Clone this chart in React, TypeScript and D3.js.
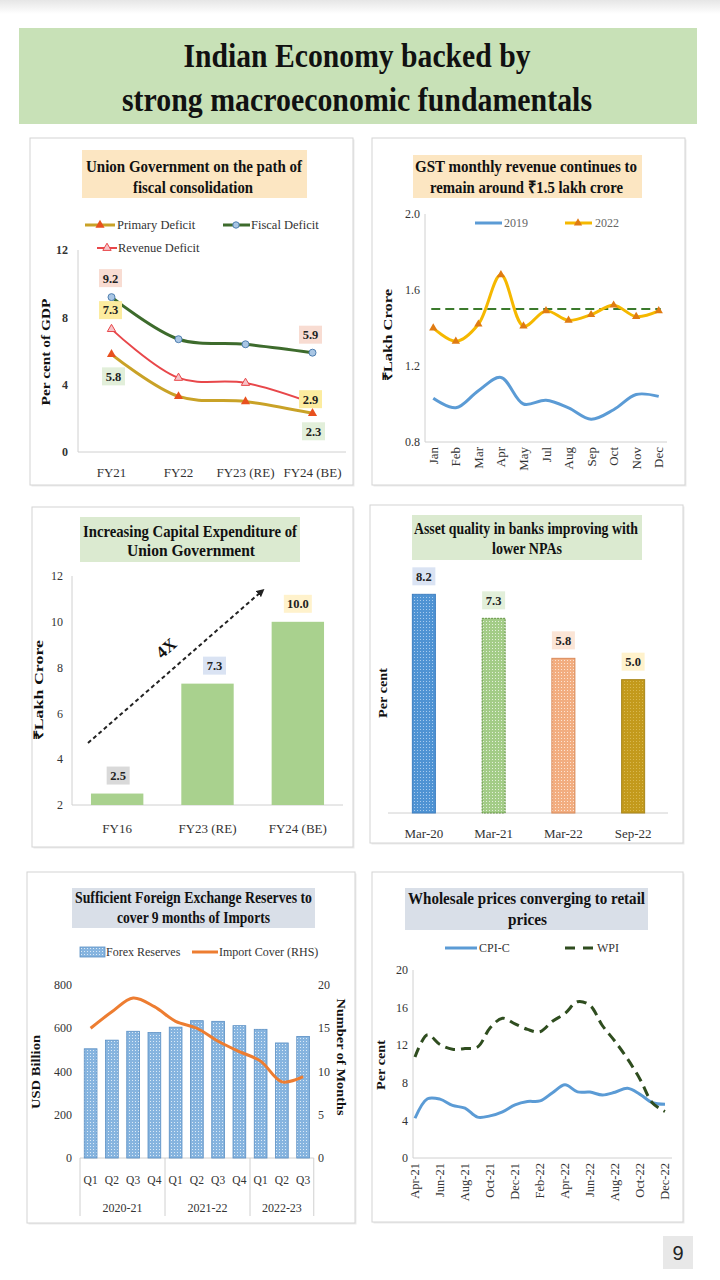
import React from 'react';
import * as d3 from 'd3';

const FONT = '"Liberation Serif", "Times New Roman", serif';

// ---------- Panel 1: fiscal consolidation ----------
const fiscalYears = ['FY21', 'FY22', 'FY23 (RE)', 'FY24 (BE)'];
const fiscalDeficit = [9.2, 6.7, 6.4, 5.9];
const revenueDeficit = [7.3, 4.4, 4.1, 2.9];
const primaryDeficit = [5.8, 3.3, 3.0, 2.3];
const deficitTicks = [0, 4, 8, 12];

// ---------- Panel 2: GST ----------
const gstMonths = ['Jan', 'Feb', 'Mar', 'Apr', 'May', 'Jul', 'Aug', 'Sep', 'Oct', 'Nov', 'Dec'];
const gst2019 = [1.03, 0.98, 1.07, 1.14, 1.0, 1.02, 0.98, 0.92, 0.97, 1.05, 1.04];
const gst2022 = [1.4, 1.33, 1.42, 1.68, 1.41, 1.49, 1.44, 1.47, 1.52, 1.46, 1.49];
const gstBenchmark = 1.5;
const gstTicks = [0.8, 1.2, 1.6, 2.0];

// ---------- Panel 3: Capex ----------
const capexYears = ['FY16', 'FY23 (RE)', 'FY24 (BE)'];
const capexValues = [2.5, 7.3, 10.0];
const capexTicks = [2, 4, 6, 8, 10, 12];

// ---------- Panel 4: NPAs ----------
const npaDates = ['Mar-20', 'Mar-21', 'Mar-22', 'Sep-22'];
const npaValues = [8.2, 7.3, 5.8, 5.0];

// ---------- Panel 5: Forex ----------
const forexQuarters = ['Q1', 'Q2', 'Q3', 'Q4', 'Q1', 'Q2', 'Q3', 'Q4', 'Q1', 'Q2', 'Q3'];
const forexYears = ['2020-21', '2021-22', '2022-23'];
const forexYearSpans = [4, 4, 3];
const forexReserves = [505, 545, 586, 580, 605, 635, 632, 612, 595, 532, 562];
const importCover = [15.0, 16.9, 18.5, 17.5, 15.8, 15.0, 13.5, 12.3, 11.2, 8.8, 9.4];
const forexTicks = [0, 200, 400, 600, 800];
const coverTicks = [0, 5, 10, 15, 20];

// ---------- Panel 6: Inflation ----------
const inflMonths = ['Apr-21', 'May-21', 'Jun-21', 'Jul-21', 'Aug-21', 'Sep-21', 'Oct-21', 'Nov-21', 'Dec-21', 'Jan-22', 'Feb-22', 'Mar-22', 'Apr-22', 'May-22', 'Jun-22', 'Jul-22', 'Aug-22', 'Sep-22', 'Oct-22', 'Nov-22', 'Dec-22'];
const inflLabels = ['Apr-21', 'Jun-21', 'Aug-21', 'Oct-21', 'Dec-21', 'Feb-22', 'Apr-22', 'Jun-22', 'Aug-22', 'Oct-22', 'Dec-22'];
const cpiC = [4.23, 6.3, 6.26, 5.59, 5.3, 4.35, 4.48, 4.91, 5.66, 6.01, 6.07, 6.95, 7.79, 7.04, 7.01, 6.71, 7.0, 7.41, 6.77, 5.88, 5.72];
const wpi = [10.74, 13.11, 12.07, 11.57, 11.64, 11.8, 13.83, 14.87, 14.27, 13.68, 13.43, 14.55, 15.38, 16.63, 16.23, 14.07, 12.41, 10.55, 8.39, 5.85, 4.95];
const inflTicks = [0, 4, 8, 12, 16, 20];

const AXIS = '#d0d0d0';
const TXT = '#333';

function Panel({ x, y, w, h }: { x: number; y: number; w: number; h: number }) {
  return (
    <g>
      <rect x={x + 1.5} y={y + 1.5} width={w} height={h} fill="#ececec" />
      <rect x={x} y={y} width={w} height={h} fill="#fff" stroke="#d4d4d4" strokeWidth={1} />
    </g>
  );
}

function TitleBox({ x, y, w, h, fill, lines, size = 17 }: any) {
  return (
    <g>
      <rect x={x} y={y} width={w} height={h} fill={fill} />
      {lines.map((l: any, i: number) => (
        <text key={i} x={l.x} y={l.y} fontSize={size} fontWeight="bold" fill="#111"
          textLength={l.len} lengthAdjust="spacingAndGlyphs">{l.t}</text>
      ))}
    </g>
  );
}

function LabelBox({ cx, cy, text, fill, w = 23 }: any) {
  return (
    <g>
      <rect x={cx - w / 2} y={cy - 9} width={w} height={18} fill={fill} />
      <text x={cx} y={cy} dy="0.35em" textAnchor="middle" fontSize={12.5} fontWeight="bold" fill="#222">{text}</text>
    </g>
  );
}

function YTitle({ x, y, text, rot = -90, len }: any) {
  return (
    <text transform={`translate(${x},${y}) rotate(${rot})`} textAnchor="middle" dy="0.35em"
      fontSize={13} fontWeight="bold" fill="#111" textLength={len} lengthAdjust="spacingAndGlyphs">{text}</text>
  );
}

const tri = d3.symbol().type(d3.symbolTriangle).size(36)() as string;
const triSmall = d3.symbol().type(d3.symbolTriangle).size(30)() as string;

function Panel1() {
  const x = d3.scalePoint<string>().domain(fiscalYears).range([78, 346]).padding(0.5);
  const y = d3.scaleLinear().domain([0, 12]).range([452, 250]);
  const ln = d3.line<number>().x((_, i) => x(fiscalYears[i])!).y(d => y(d)).curve(d3.curveCatmullRom);
  const px = (i: number) => x(fiscalYears[i])!;
  return (
    <g>
      <Panel x={30} y={138} w={323} h={347} />
      <TitleBox x={82} y={150} w={225} h={48} fill="#fce6c2"
        lines={[{ t: 'Union Government on the path of', x: 86, y: 172, len: 216 }, { t: 'fiscal consolidation', x: 133, y: 193, len: 120 }]} />
      {/* legend */}
      <line x1={85} x2={115} y1={225} y2={225} stroke="#c9a227" strokeWidth={3} />
      <path d={tri} transform="translate(100,225)" fill="#e8501e" />
      <text x={117} y={225} dy="0.35em" fontSize={12.5} fill={TXT}>Primary Deficit</text>
      <line x1={223} x2={250} y1={225} y2={225} stroke="#3d6b2c" strokeWidth={3} />
      <circle cx={236} cy={225} r={3.2} fill="#a9c6e4" stroke="#4f7fb0" strokeWidth={1} />
      <text x={251} y={225} dy="0.35em" fontSize={12.5} fill={TXT}>Fiscal Deficit</text>
      <line x1={97} x2={117} y1={248} y2={248} stroke="#e8474a" strokeWidth={2} />
      <path d={triSmall} transform="translate(107,248)" fill="#f6c3c8" stroke="#e8474a" strokeWidth={1} />
      <text x={118} y={248} dy="0.35em" fontSize={12.5} fill={TXT}>Revenue Deficit</text>
      {/* axes */}
      <line x1={78} x2={78} y1={250} y2={452} stroke={AXIS} />
      <line x1={78} x2={346} y1={452} y2={452} stroke={AXIS} />
      {deficitTicks.map(t => (
        <text key={t} x={68} y={y(t)} dy="0.35em" textAnchor="end" fontSize={12} fontWeight="bold" fill={TXT}>{t}</text>
      ))}
      {fiscalYears.map(c => (
        <text key={c} x={x(c)} y={472} dy="0.35em" textAnchor="middle" fontSize={13} fill={TXT}>{c}</text>
      ))}
      <YTitle x={45} y={352} text="Per cent of GDP" len={107} />
      {/* lines */}
      <path d={ln(primaryDeficit)!} fill="none" stroke="#c9a227" strokeWidth={3} />
      <path d={ln(revenueDeficit)!} fill="none" stroke="#e8474a" strokeWidth={2} />
      <path d={ln(fiscalDeficit)!} fill="none" stroke="#3d6b2c" strokeWidth={3} />
      {primaryDeficit.map((v, i) => <path key={'p' + i} d={tri} transform={`translate(${px(i)},${y(v)})`} fill="#e8501e" />)}
      {revenueDeficit.map((v, i) => <path key={'r' + i} d={triSmall} transform={`translate(${px(i)},${y(v)})`} fill="#f6c3c8" stroke="#e8474a" strokeWidth={1} />)}
      {fiscalDeficit.map((v, i) => <circle key={'f' + i} cx={px(i)} cy={y(v)} r={3.5} fill="#a9c6e4" stroke="#4f7fb0" strokeWidth={1} />)}
      {/* data labels */}
      <LabelBox cx={px(0) - 1} cy={y(fiscalDeficit[0]) - 19} text="9.2" fill="#f8dcd2" />
      <LabelBox cx={px(0) - 1} cy={y(revenueDeficit[0]) - 19} text="7.3" fill="#fcec9f" />
      <LabelBox cx={px(0) + 2} cy={y(primaryDeficit[0]) + 22} text="5.8" fill="#e2efda" />
      <LabelBox cx={px(3) - 2} cy={y(fiscalDeficit[3]) - 18} text="5.9" fill="#f8dcd2" />
      <LabelBox cx={px(3) - 2} cy={y(revenueDeficit[3]) - 4} text="2.9" fill="#fcec9f" />
      <LabelBox cx={px(3) + 1} cy={y(primaryDeficit[3]) + 18} text="2.3" fill="#e2efda" />
    </g>
  );
}

function Panel2() {
  const x = d3.scalePoint<string>().domain(gstMonths).range([422, 670]).padding(0.5);
  const y = d3.scaleLinear().domain([0.8, 2.0]).range([442, 214]);
  const ln = d3.line<number>().x((_, i) => x(gstMonths[i])!).y(d => y(d)).curve(d3.curveCatmullRom);
  return (
    <g>
      <Panel x={372} y={138} w={313} h={347} />
      <TitleBox x={413} y={155} w={229} h={43} fill="#fce6c2"
        lines={[{ t: 'GST monthly revenue continues to', x: 415, y: 172, len: 222 }, { t: 'remain around ₹1.5 lakh crore', x: 430, y: 193, len: 193 }]} />
      <line x1={425} x2={425} y1={214} y2={442} stroke={AXIS} />
      <line x1={425} x2={667} y1={442} y2={442} stroke={AXIS} />
      {gstTicks.map(t => (
        <text key={t} x={420} y={y(t)} dy="0.35em" textAnchor="end" fontSize={12} fill={TXT}>{t.toFixed(1)}</text>
      ))}
      {gstMonths.map(m => (
        <text key={m} transform={`translate(${x(m)},447) rotate(-90)`} dy="0.35em" textAnchor="end" fontSize={13} fill={TXT}>{m}</text>
      ))}
      <YTitle x={387} y={335} text="₹Lakh Crore" len={92} />
      {/* legend */}
      <line x1={475} x2={502} y1={223} y2={223} stroke="#5b9bd5" strokeWidth={3} />
      <text x={504} y={223} dy="0.35em" fontSize={12} fill="#666">2019</text>
      <line x1={565} x2={592} y1={223} y2={223} stroke="#f5b800" strokeWidth={3} />
      <path d={triSmall} transform="translate(578,223)" fill="#e07b12" />
      <text x={595} y={223} dy="0.35em" fontSize={12} fill="#666">2022</text>
      {/* benchmark */}
      <line x1={x(gstMonths[0])! - 2} x2={x(gstMonths[gstMonths.length - 1])! + 2} y1={y(gstBenchmark)} y2={y(gstBenchmark)}
        stroke="#3b7a2c" strokeWidth={2} strokeDasharray="9 5" />
      <path d={ln(gst2019)!} fill="none" stroke="#5b9bd5" strokeWidth={3} />
      <path d={ln(gst2022)!} fill="none" stroke="#f5b800" strokeWidth={3} />
      {gst2022.map((v, i) => <path key={i} d={triSmall} transform={`translate(${x(gstMonths[i])},${y(v)})`} fill="#e07b12" />)}
    </g>
  );
}

function Panel3() {
  const x = d3.scaleBand<string>().domain(capexYears).range([72, 343]).paddingInner(0.42).paddingOuter(0.21);
  const y = d3.scaleLinear().domain([2, 12]).range([805, 576]);
  const labelFills = ['#d9d9d9', '#dae3f3', '#fff2cc'];
  const cx = (i: number) => x(capexYears[i])! + x.bandwidth() / 2;
  return (
    <g>
      <Panel x={32} y={507} w={321} h={340} />
      <TitleBox x={80} y={517} w={220} h={45} fill="#dbead0"
        lines={[{ t: 'Increasing Capital Expenditure of', x: 83, y: 537, len: 214 }, { t: 'Union Government', x: 127, y: 556, len: 128 }]} />
      <line x1={72} x2={72} y1={576} y2={805} stroke={AXIS} />
      <line x1={72} x2={343} y1={805} y2={805} stroke={AXIS} />
      {capexTicks.map(t => (
        <text key={t} x={63} y={y(t)} dy="0.35em" textAnchor="end" fontSize={12} fill={TXT}>{t}</text>
      ))}
      {capexYears.map(c => (
        <text key={c} x={x(c)! + x.bandwidth() / 2} y={828} dy="0.35em" textAnchor="middle" fontSize={13} fill={TXT}>{c}</text>
      ))}
      <YTitle x={38} y={690} text="₹Lakh Crore" len={100} />
      {capexValues.map((v, i) => (
        <rect key={i} x={x(capexYears[i])} y={y(v)} width={x.bandwidth()} height={y(2) - y(v)} fill="#a9d18e" />
      ))}
      {capexValues.map((v, i) => (
        <LabelBox key={'l' + i} cx={cx(i) - (i === 0 ? -1 : i === 1 ? -7 : 0)} cy={y(v) - 18} text={v.toFixed(1)} fill={labelFills[i]} w={i === 2 ? 28 : 23} />
      ))}
      {/* 4X arrow */}
      <line x1={88} y1={743} x2={262} y2={591} stroke="#222" strokeWidth={2} strokeDasharray="4 3" markerEnd="url(#arrowHead)" />
      <text transform="translate(166,648) rotate(-41)" textAnchor="middle" dy="0.35em" fontSize={17} fontWeight="bold" fill="#111">4X</text>
    </g>
  );
}

function Panel4() {
  const x = d3.scaleBand<string>().domain(npaDates).range([389, 668]).paddingInner(0.67).paddingOuter(0.335);
  const y = d3.scaleLinear().domain([0, 9]).range([813, 573]);
  const fills = ['url(#patBlue)', 'url(#patGreen)', 'url(#patPeach)', 'url(#patGold)'];
  const strokes = ['#3f7fc0', '#5e8f3c', '#d98a5a', '#a8861c'];
  const labelFills = ['#dae3f3', '#e2efda', '#fbe5d6', '#fff2cc'];
  return (
    <g>
      <Panel x={370} y={505} w={313} h={338} />
      <TitleBox x={412} y={515} w={230} h={45} fill="#dbead0"
        lines={[{ t: 'Asset quality in banks improving with', x: 414, y: 534, len: 224 }, { t: 'lower NPAs', x: 492, y: 554, len: 70 }]} />
      <line x1={388} x2={668} y1={813} y2={813} stroke={AXIS} />
      {npaDates.map(c => (
        <text key={c} x={x(c)! + x.bandwidth() / 2} y={833} dy="0.35em" textAnchor="middle" fontSize={13} fill={TXT}>{c}</text>
      ))}
      <YTitle x={382} y={693} text="Per cent" len={50} />
      {npaValues.map((v, i) => (
        <rect key={i} x={x(npaDates[i])} y={y(v)} width={x.bandwidth()} height={y(0) - y(v)} fill={fills[i]}
          stroke={strokes[i]} strokeWidth={1} strokeDasharray={i === 1 ? '2 1' : undefined} />
      ))}
      {npaValues.map((v, i) => (
        <LabelBox key={'l' + i} cx={x(npaDates[i])! + x.bandwidth() / 2} cy={y(v) - 18} text={v.toFixed(1)} fill={labelFills[i]} />
      ))}
    </g>
  );
}

function Panel5() {
  const idx = forexQuarters.map((_, i) => String(i));
  const x = d3.scaleBand<string>().domain(idx).range([80, 313.75]).paddingInner(0.4).paddingOuter(0.2);
  const yL = d3.scaleLinear().domain([0, 800]).range([1158, 985]);
  const yR = d3.scaleLinear().domain([0, 20]).range([1158, 985]);
  const cx = (i: number) => x(String(i))! + x.bandwidth() / 2;
  const ln = d3.line<number>().x((_, i) => cx(i)).y(d => yR(d)).curve(d3.curveCatmullRom);
  const step = x.step();
  const x0 = 80;
  let acc = 0;
  const bounds = [0];
  forexYearSpans.forEach(s => { acc += s; bounds.push(acc); });
  return (
    <g>
      <Panel x={27} y={872} w={328} h={351} />
      <TitleBox x={72} y={888} w={243} h={40} fill="#d9dfe8" size={16}
        lines={[{ t: 'Sufficient Foreign Exchange Reserves to', x: 75, y: 903, len: 237 }, { t: 'cover 9 months of Imports', x: 117, y: 923, len: 153 }]} />
      {/* legend */}
      <rect x={80} y={947} width={25} height={10} fill="url(#patForex)" stroke="#5b8fc4" strokeWidth={0.8} />
      <text x={106} y={952} dy="0.35em" fontSize={12} fill={TXT}>Forex Reserves</text>
      <line x1={192} x2={218} y1={952} y2={952} stroke="#ed7d31" strokeWidth={3} />
      <text x={219} y={952} dy="0.35em" fontSize={12} fill={TXT}>Import Cover (RHS)</text>
      <line x1={80} x2={313.75} y1={1158} y2={1158} stroke={AXIS} />
      {forexTicks.map(t => (
        <text key={t} x={72} y={yL(t)} dy="0.35em" textAnchor="end" fontSize={12} fill={TXT}>{t}</text>
      ))}
      {coverTicks.map(t => (
        <text key={t} x={318} y={yR(t)} dy="0.35em" textAnchor="start" fontSize={12} fill={TXT}>{t}</text>
      ))}
      {forexReserves.map((v, i) => (
        <rect key={i} x={x(String(i))} y={yL(v)} width={x.bandwidth()} height={yL(0) - yL(v)} fill="url(#patForex)" stroke="#5b8fc4" strokeWidth={0.8} />
      ))}
      <path d={ln(importCover)!} fill="none" stroke="#ed7d31" strokeWidth={3} />
      {forexQuarters.map((q, i) => (
        <text key={i} x={cx(i)} y={1180} dy="0.35em" textAnchor="middle" fontSize={11.5} fill={TXT}>{q}</text>
      ))}
      {bounds.map((b, i) => (
        <line key={'b' + i} x1={x0 + b * step} x2={x0 + b * step} y1={1158} y2={1216} stroke={AXIS} />
      ))}
      {forexYears.map((yr, i) => (
        <text key={yr} x={x0 + (bounds[i] + bounds[i + 1]) / 2 * step} y={1208} dy="0.35em" textAnchor="middle" fontSize={12} fill={TXT}>{yr}</text>
      ))}
      <YTitle x={35} y={1072} text="USD Billion" len={74} />
      <YTitle x={342} y={1057} text="Number of Months" rot={90} len={117} />
    </g>
  );
}

function Panel6() {
  const x = d3.scalePoint<string>().domain(inflMonths).range([415, 665]);
  const y = d3.scaleLinear().domain([0, 20]).range([1158, 970]);
  const ln = d3.line<number>().x((_, i) => x(inflMonths[i])!).y(d => y(d)).curve(d3.curveCatmullRom);
  return (
    <g>
      <Panel x={372} y={872} w={311} h={350} />
      <TitleBox x={405} y={888} w={243} h={42} fill="#d9dfe8" size={16}
        lines={[{ t: 'Wholesale prices converging to retail', x: 408, y: 904, len: 237 }, { t: 'prices', x: 508, y: 925, len: 39 }]} />
      <line x1={445} x2={477} y1={948} y2={948} stroke="#5b9bd5" strokeWidth={3} />
      <text x={479} y={948} dy="0.35em" fontSize={12} fill={TXT}>CPI-C</text>
      <line x1={565} x2={593} y1={948} y2={948} stroke="#2f4d1f" strokeWidth={3} strokeDasharray="10 8" />
      <text x={597} y={948} dy="0.35em" fontSize={12} fill={TXT}>WPI</text>
      <line x1={413} x2={413} y1={970} y2={1158} stroke={AXIS} />
      <line x1={413} x2={672} y1={1158} y2={1158} stroke={AXIS} />
      {inflTicks.map(t => (
        <text key={t} x={408} y={y(t)} dy="0.35em" textAnchor="end" fontSize={12} fill={TXT}>{t}</text>
      ))}
      {inflLabels.map(m => (
        <text key={m} transform={`translate(${x(m)},1163) rotate(-90)`} dy="0.35em" textAnchor="end" fontSize={12.5} fill={TXT}>{m}</text>
      ))}
      <YTitle x={380} y={1065} text="Per cent" len={50} />
      <path d={ln(cpiC)!} fill="none" stroke="#5b9bd5" strokeWidth={3} />
      <path d={ln(wpi)!} fill="none" stroke="#2f4d1f" strokeWidth={3} strokeDasharray="10 6" />
    </g>
  );
}

function dotPattern(id: string, base: string, dot: string) {
  return (
    <pattern id={id} width={3} height={3} patternUnits="userSpaceOnUse">
      <rect width={3} height={3} fill={base} />
      <rect width={1} height={1} fill={dot} />
    </pattern>
  );
}

export default function App() {
  return (
    <svg width={720} height={1280} style={{ position: 'absolute', left: 0, top: 0, background: '#fff' }} fontFamily={FONT}>
      <defs>
        <linearGradient id="topFade" x1="0" y1="0" x2="0" y2="1">
          <stop offset="0" stopColor="#e6e6e6" />
          <stop offset="1" stopColor="#ffffff" />
        </linearGradient>
        <marker id="arrowHead" viewBox="0 0 10 10" refX="6" refY="5" markerWidth="4" markerHeight="4" orient="auto">
          <path d="M0,0 L10,5 L0,10 z" fill="#222" />
        </marker>
        {dotPattern('patBlue', '#4f93d3', '#a8cbee')}
        {dotPattern('patGreen', '#a3cc87', '#e3f0da')}
        {dotPattern('patPeach', '#f2ad80', '#fce3d2')}
        {dotPattern('patGold', '#c39a1c', '#d9b850')}
        {dotPattern('patForex', '#86b4df', '#dbeaf7')}
      </defs>
      <rect x={0} y={0} width={720} height={1280} fill="#fff" />
      <rect x={0} y={0} width={720} height={14} fill="url(#topFade)" />
      {/* main title */}
      <rect x={19} y={28} width={678} height={96} fill="#c8e1b7" />
      <text x={357} y={67} textAnchor="middle" fontSize={34} fontWeight="bold" fill="#111" textLength={347} lengthAdjust="spacingAndGlyphs">Indian Economy backed by</text>
      <text x={357} y={111} textAnchor="middle" fontSize={34} fontWeight="bold" fill="#111" textLength={470} lengthAdjust="spacingAndGlyphs">strong macroeconomic fundamentals</text>
      <Panel1 />
      <Panel2 />
      <Panel3 />
      <Panel4 />
      <Panel5 />
      <Panel6 />
      {/* page number */}
      <rect x={663} y={1236} width={30} height={33} fill="#e8e8e8" />
      <text x={678} y={1253} dy="0.35em" textAnchor="middle" fontSize={20} fontFamily='"Liberation Sans", Arial, sans-serif' fill="#222">9</text>
    </svg>
  );
}
